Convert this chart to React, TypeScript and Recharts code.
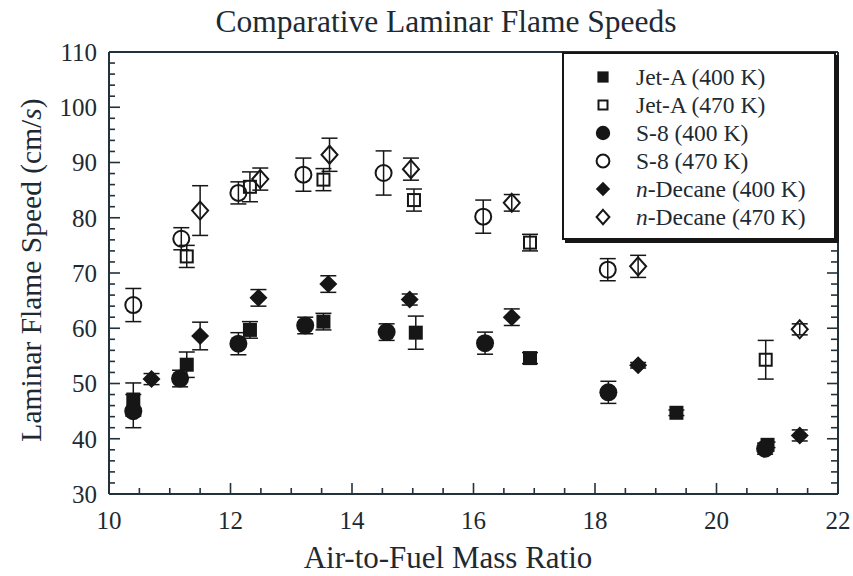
import React from 'react'
import { ScatterChart, Scatter, XAxis, YAxis, ErrorBar, Legend } from 'recharts'

// readings: x = air-to-fuel mass ratio, y = flame speed (cm/s), err = +/- bar
const jetA400X = [10.4, 11.28, 12.32, 13.53, 15.05, 16.93, 19.34, 20.84]
const jetA400Y = [47.1, 53.4, 59.7, 61.2, 59.2, 54.6, 44.7, 38.9]
const jetA400Err = [3, 2.3, 1.5, 1.5, 3, 1, 0.5, 0.5]

const jetA470X = [11.28, 12.32, 13.53, 15.02, 16.93, 20.81]
const jetA470Y = [73, 85.6, 86.9, 83.2, 75.5, 54.3]
const jetA470Err = [2, 2.7, 2, 2, 1.5, 3.5]

const s8400X = [10.4, 11.17, 12.13, 13.23, 14.57, 16.19, 18.22, 20.8]
const s8400Y = [45, 50.9, 57.2, 60.5, 59.3, 57.3, 48.4, 38.2]
const s8400Err = [3, 1.5, 2, 1.5, 1.5, 2, 2, 1]

const s8470X = [10.4, 11.19, 12.13, 13.2, 14.52, 16.16, 18.21]
const s8470Y = [64.2, 76.2, 84.5, 87.8, 88.1, 80.2, 70.6]
const s8470Err = [3, 2, 2, 3, 4, 3, 2]

const dec400X = [10.7, 11.5, 12.46, 13.61, 14.95, 16.63, 18.71, 21.37]
const dec400Y = [50.8, 58.6, 65.5, 68, 65.2, 62, 53.3, 40.6]
const dec400Err = [1, 2.5, 1.5, 1.5, 1, 1.5, 0.5, 1]

const dec470X = [11.5, 12.49, 13.63, 14.97, 16.63, 18.71, 21.37]
const dec470Y = [81.3, 87, 91.4, 88.8, 82.7, 71.2, 59.8]
const dec470Err = [4.5, 2, 3, 2, 1.5, 2, 1]

const xTicks = [10, 10.5, 11, 11.5, 12, 12.5, 13, 13.5, 14, 14.5, 15, 15.5, 16, 16.5, 17, 17.5, 18, 18.5, 19, 19.5, 20, 20.5, 21, 21.5, 22]
const xLabels = [10, 12, 14, 16, 18, 20, 22]
const yTicks = [30, 32, 34, 36, 38, 40, 42, 44, 46, 48, 50, 52, 54, 56, 58, 60, 62, 64, 66, 68, 70, 72, 74, 76, 78, 80, 82, 84, 86, 88, 90, 92, 94, 96, 98, 100, 102, 104, 106, 108, 110]
const yLabels = [30, 40, 50, 60, 70, 80, 90, 100, 110]

const FONT = '"Liberation Serif", "Times New Roman", serif'
const INK = '#161616'
const AXIS = '#22313a'
const TXT = '#1e2a32'

const rows = (xs: number[], ys: number[], errs: number[]) =>
  xs.map((x, i) => ({ x, y: ys[i], err: errs[i] }))

type Kind = 'sqFill' | 'sqOpen' | 'cirFill' | 'cirOpen' | 'diaFill' | 'diaOpen'

const series: { name: string; italic?: string; kind: Kind; data: any[] }[] = [
  { name: 'Jet-A (400 K)', kind: 'sqFill', data: rows(jetA400X, jetA400Y, jetA400Err) },
  { name: 'Jet-A (470 K)', kind: 'sqOpen', data: rows(jetA470X, jetA470Y, jetA470Err) },
  { name: 'S-8 (400 K)', kind: 'cirFill', data: rows(s8400X, s8400Y, s8400Err) },
  { name: 'S-8 (470 K)', kind: 'cirOpen', data: rows(s8470X, s8470Y, s8470Err) },
  { name: '-Decane (400 K)', italic: 'n', kind: 'diaFill', data: rows(dec400X, dec400Y, dec400Err) },
  { name: '-Decane (470 K)', italic: 'n', kind: 'diaOpen', data: rows(dec470X, dec470Y, dec470Err) },
]

const symbol = (kind: Kind, cx: number, cy: number, small = false) => {
  const k = small ? 0.8 : 1
  switch (kind) {
    case 'sqFill': {
      const h = 7 * k
      return <rect x={cx - h} y={cy - h} width={2 * h} height={2 * h} fill={INK} />
    }
    case 'sqOpen': {
      const h = small ? 4.5 : 6
      return <rect x={cx - h} y={cy - h} width={2 * h} height={2 * h} fill="none" stroke={INK} strokeWidth={2} />
    }
    case 'cirFill':
      return <circle cx={cx} cy={cy} r={9 * k} fill={INK} />
    case 'cirOpen':
      return <circle cx={cx} cy={cy} r={8 * k} fill="none" stroke={INK} strokeWidth={2} />
    case 'diaFill': {
      const h = 9 * k
      return <polygon points={`${cx},${cy - h} ${cx + h},${cy} ${cx},${cy + h} ${cx - h},${cy}`} fill={INK} />
    }
    default: {
      const w = 8 * k, h = 9 * k
      return <polygon points={`${cx},${cy - h} ${cx + w},${cy} ${cx},${cy + h} ${cx - w},${cy}`} fill="none" stroke={INK} strokeWidth={2} />
    }
  }
}

// inward-pointing ticks; label only on the major ones
const BottomTick = (props: any) => {
  const x = Number(props.x), y = Number(props.y)
  const v = Number(props.payload.value)
  const major = xLabels.includes(v)
  return (
    <g>
      <path d={`M${x},${y}V${y - (major ? 11 : 6)}`} stroke={AXIS} strokeWidth={1.6} fill="none" />
      {major && (
        <text x={x} y={y + 35} textAnchor="middle" fontSize={25} fontFamily={FONT} fill={TXT}>{v}</text>
      )}
    </g>
  )
}

const TopTick = (props: any) => {
  const x = Number(props.x), y = Number(props.y)
  const major = xLabels.includes(Number(props.payload.value))
  return <path d={`M${x},${y}V${y + (major ? 11 : 6)}`} stroke={AXIS} strokeWidth={1.6} fill="none" />
}

const LeftTick = (props: any) => {
  const x = Number(props.x), y = Number(props.y)
  const v = Number(props.payload.value)
  const major = yLabels.includes(v)
  return (
    <g>
      <path d={`M${x},${y}H${x + (major ? 11 : 6)}`} stroke={AXIS} strokeWidth={1.6} fill="none" />
      {major && (
        <text x={x - 12} y={y} dy="0.35em" textAnchor="end" fontSize={25} fontFamily={FONT} fill={TXT}>{v}</text>
      )}
    </g>
  )
}

const RightTick = (props: any) => {
  const x = Number(props.x), y = Number(props.y)
  const major = yLabels.includes(Number(props.payload.value))
  return <path d={`M${x},${y}H${x - (major ? 11 : 7)}`} stroke={AXIS} strokeWidth={1.6} fill="none" />
}

const renderLegend = () => (
  <div style={{ boxSizing: 'border-box', width: 274, height: 188, border: `2px solid ${INK}`, boxShadow: `3px 3px 0 ${INK}`, background: '#fff', paddingTop: 9 }}>
    {series.map(s => (
      <div key={s.kind} style={{ display: 'flex', alignItems: 'center', height: 28 }}>
        <svg width={72} height={28} style={{ flex: 'none' }}>
          {symbol(s.kind, 39, 14, true)}
        </svg>
        <span style={{ fontFamily: FONT, fontSize: 23.5, color: TXT, whiteSpace: 'nowrap', lineHeight: '28px' }}>
          {s.italic && <i>{s.italic}</i>}{s.name}
        </span>
      </div>
    ))}
  </div>
)

export default function App() {
  return (
    <div style={{ position: 'absolute', left: 0, top: 0, width: 853, height: 576, background: '#fff' }}>
      <div style={{ position: 'absolute', left: 0, top: 6, width: 892, textAlign: 'center', fontFamily: FONT, fontSize: 31.5, lineHeight: '31px', color: TXT }}>
        Comparative Laminar Flame Speeds
      </div>
      <ScatterChart width={853} height={576} margin={{ top: 51, right: 14, bottom: 2, left: 9 }}>
        <XAxis
          xAxisId="b" type="number" dataKey="x" domain={[10, 22]} ticks={xTicks} interval={0}
          allowDataOverflow height={80} tickSize={0} tickMargin={0} tickLine={false}
          axisLine={{ stroke: AXIS, strokeWidth: 2 }} tick={<BottomTick />}
          label={{
            content: (p: any) => (
              <text x={448} y={p.viewBox.y + 74} textAnchor="middle" fontSize={31} fontFamily={FONT} fill={TXT}>
                Air-to-Fuel Mass Ratio
              </text>
            ),
          }}
        />
        <XAxis
          xAxisId="t" orientation="top" type="number" domain={[10, 22]} ticks={xTicks} interval={0}
          allowDataOverflow height={1} tickSize={0} tickMargin={0} tickLine={false}
          axisLine={{ stroke: AXIS, strokeWidth: 2 }} tick={<TopTick />}
        />
        <YAxis
          yAxisId="l" type="number" dataKey="y" domain={[30, 110]} ticks={yTicks} interval={0}
          allowDataOverflow width={100} tickSize={0} tickMargin={0} tickLine={false}
          axisLine={{ stroke: AXIS, strokeWidth: 2 }} tick={<LeftTick />}
          label={{
            content: (p: any) => (
              <text x={31} y={p.viewBox.y + 218} transform={`rotate(-90, 31, ${p.viewBox.y + 218})`} textAnchor="middle" dominantBaseline="central" fontSize={29.5} fontFamily={FONT} fill={TXT}>
                Laminar Flame Speed (cm/<tspan fontStyle="italic">s</tspan>)
              </text>
            ),
          }}
        />
        <YAxis
          yAxisId="r" orientation="right" type="number" domain={[30, 110]} ticks={yTicks} interval={0}
          allowDataOverflow width={1} tickSize={0} tickMargin={0} tickLine={false}
          axisLine={{ stroke: AXIS, strokeWidth: 2 }} tick={<RightTick />}
        />
        <Legend
          layout="horizontal" verticalAlign="middle" align="center"
          wrapperStyle={{ top: 52, left: 562, width: 274, height: 188 }}
          content={renderLegend}
        />
        {series.map(s => (
          <Scatter
            key={s.kind} name={s.name} data={s.data} xAxisId="b" yAxisId="l"
            isAnimationActive={false}
            shape={(p: any) => symbol(s.kind, p.cx, p.cy)}
          >
            <ErrorBar dataKey="err" direction="y" width={8} stroke={INK} strokeWidth={1.5} />
          </Scatter>
        ))}
      </ScatterChart>
    </div>
  )
}
